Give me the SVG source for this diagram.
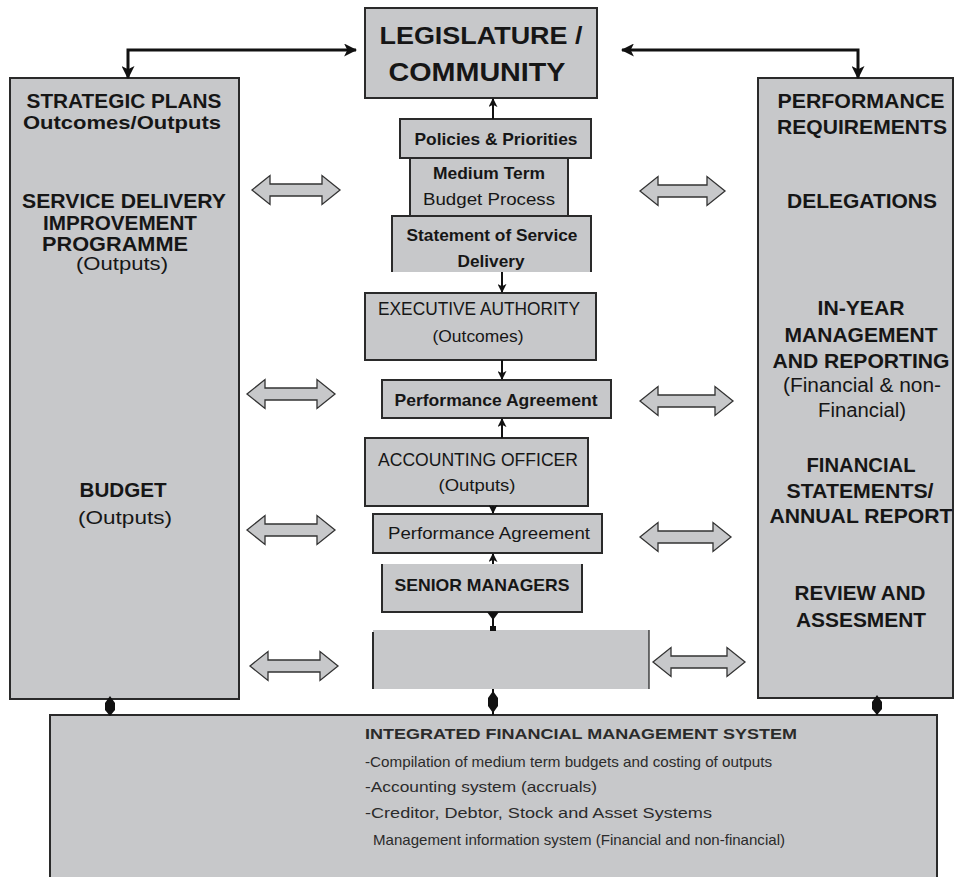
<svg xmlns="http://www.w3.org/2000/svg" width="958" height="879" viewBox="0 0 958 879">
<defs>
<style>
.box{fill:#c7c8ca;stroke:#2a2a2a;stroke-width:2}
.fl{fill:#c7c8ca}
.edge{fill:none;stroke:#2a2a2a;stroke-width:2}
.t{font-family:"Liberation Sans",Arial,sans-serif;fill:#161616;text-anchor:middle}
.s{text-anchor:start}
.b{font-weight:bold}
.dbl{fill:#c7c8ca;stroke:#333;stroke-width:1.3}
.conn{fill:none;stroke:#111;stroke-width:2}
.thick{stroke-width:3}
.tri{fill:#111}
.ifms{fill:#2b2b2b}
</style>
<marker id="big" viewBox="0 0 12 12" refX="11" refY="6" markerWidth="13" markerHeight="13" markerUnits="userSpaceOnUse" orient="auto-start-reverse">
<path d="M0,0 L12,6 L0,12 L3,6 Z" fill="#111"/>
</marker>
<marker id="sm" viewBox="0 0 10 10" refX="9" refY="5" markerWidth="9" markerHeight="9" markerUnits="userSpaceOnUse" orient="auto-start-reverse">
<path d="M0,0 L10,5 L0,10 L2.5,5 Z" fill="#111"/>
</marker>
</defs>
<rect width="958" height="879" fill="#ffffff"/>

<g id="legislature">
<rect class="box" x="365" y="8" width="232" height="90"/>
<text class="t b" x="481" y="44" font-size="24" textLength="203" lengthAdjust="spacingAndGlyphs">LEGISLATURE /</text>
<text class="t b" x="477" y="81" font-size="25" textLength="177" lengthAdjust="spacingAndGlyphs">COMMUNITY</text>
</g>

<g id="strategic">
<rect class="box" x="10" y="78" width="229" height="621"/>
<text class="t b" x="124" y="108" font-size="20" textLength="195" lengthAdjust="spacingAndGlyphs">STRATEGIC PLANS</text>
<text class="t b" x="122" y="129" font-size="19" textLength="198" lengthAdjust="spacingAndGlyphs">Outcomes/Outputs</text>
<text class="t b" x="124" y="208" font-size="20" textLength="204" lengthAdjust="spacingAndGlyphs">SERVICE DELIVERY</text>
<text class="t b" x="120" y="230" font-size="20" textLength="154" lengthAdjust="spacingAndGlyphs">IMPROVEMENT</text>
<text class="t b" x="115" y="251" font-size="20" textLength="146" lengthAdjust="spacingAndGlyphs">PROGRAMME</text>
<text class="t" x="122" y="270" font-size="19" textLength="92" lengthAdjust="spacingAndGlyphs">(Outputs)</text>
<text class="t b" x="123" y="497" font-size="20" textLength="87" lengthAdjust="spacingAndGlyphs">BUDGET</text>
<text class="t" x="125" y="524" font-size="19" textLength="94" lengthAdjust="spacingAndGlyphs">(Outputs)</text>
</g>

<g id="performance">
<rect class="box" x="758" y="78" width="195" height="620"/>
<text class="t b" x="861" y="108" font-size="20" textLength="167" lengthAdjust="spacingAndGlyphs">PERFORMANCE</text>
<text class="t b" x="862" y="134" font-size="20" textLength="170" lengthAdjust="spacingAndGlyphs">REQUIREMENTS</text>
<text class="t b" x="862" y="208" font-size="20" textLength="150" lengthAdjust="spacingAndGlyphs">DELEGATIONS</text>
<text class="t b" x="861" y="315" font-size="21" textLength="87" lengthAdjust="spacingAndGlyphs">IN-YEAR</text>
<text class="t b" x="861" y="342" font-size="21" textLength="153" lengthAdjust="spacingAndGlyphs">MANAGEMENT</text>
<text class="t b" x="861" y="368" font-size="21" textLength="177" lengthAdjust="spacingAndGlyphs">AND REPORTING</text>
<text class="t" x="862" y="392" font-size="20" textLength="158" lengthAdjust="spacingAndGlyphs">(Financial &amp; non-</text>
<text class="t" x="862" y="417" font-size="20" textLength="88" lengthAdjust="spacingAndGlyphs">Financial)</text>
<text class="t b" x="861" y="472" font-size="21" textLength="109" lengthAdjust="spacingAndGlyphs">FINANCIAL</text>
<text class="t b" x="860" y="498" font-size="21" textLength="147" lengthAdjust="spacingAndGlyphs">STATEMENTS/</text>
<text class="t b" x="861" y="523" font-size="21" textLength="183" lengthAdjust="spacingAndGlyphs">ANNUAL REPORT</text>
<text class="t b" x="860" y="600" font-size="21" textLength="131" lengthAdjust="spacingAndGlyphs">REVIEW AND</text>
<text class="t b" x="861" y="627" font-size="21" textLength="130" lengthAdjust="spacingAndGlyphs">ASSESMENT</text>
</g>

<g id="policies">
<rect class="box" x="400" y="119" width="191" height="39"/>
<text class="t b" x="496" y="145" font-size="17" textLength="163" lengthAdjust="spacingAndGlyphs">Policies &amp; Priorities</text>
</g>

<g id="mtbp">
<rect class="box" x="410" y="158" width="158" height="58"/>
<text class="t b" x="489" y="179" font-size="17" textLength="112" lengthAdjust="spacingAndGlyphs">Medium Term</text>
<text class="t" x="489" y="205" font-size="17" textLength="132" lengthAdjust="spacingAndGlyphs">Budget Process</text>
</g>

<g id="ssd">
<rect class="fl" x="392" y="216" width="199" height="56"/>
<path class="edge" d="M392,272 V216 H591 V272"/>
<text class="t b" x="492" y="241" font-size="17" textLength="171" lengthAdjust="spacingAndGlyphs">Statement of Service</text>
<text class="t b" x="491" y="267" font-size="17" textLength="67" lengthAdjust="spacingAndGlyphs">Delivery</text>
</g>

<g id="executive">
<rect class="box" x="365" y="293" width="231" height="67"/>
<text class="t" x="479" y="315" font-size="18" textLength="202" lengthAdjust="spacingAndGlyphs">EXECUTIVE AUTHORITY</text>
<text class="t" x="478" y="342" font-size="17" textLength="91" lengthAdjust="spacingAndGlyphs">(Outcomes)</text>
</g>

<g id="pa1">
<rect class="box" x="382" y="380" width="229" height="38"/>
<text class="t b" x="496" y="406" font-size="17" textLength="203" lengthAdjust="spacingAndGlyphs">Performance Agreement</text>
</g>

<g id="accounting">
<rect class="box" x="365" y="438" width="223" height="68"/>
<text class="t" x="478" y="466" font-size="18" textLength="200" lengthAdjust="spacingAndGlyphs">ACCOUNTING OFFICER</text>
<text class="t" x="477" y="491" font-size="17" textLength="77" lengthAdjust="spacingAndGlyphs">(Outputs)</text>
</g>

<g id="pa2">
<rect class="box" x="373" y="514" width="229" height="39"/>
<text class="t" x="489" y="539" font-size="16" textLength="202" lengthAdjust="spacingAndGlyphs">Performance Agreement</text>
</g>

<g id="senior">
<rect class="fl" x="382" y="564" width="200" height="48"/>
<path class="edge" d="M382,564 V612 H582 V564"/>
<text class="t b" x="482" y="591" font-size="17" textLength="175" lengthAdjust="spacingAndGlyphs">SENIOR MANAGERS</text>
</g>

<g id="blank">
<rect class="fl" x="373" y="630" width="276" height="59"/>
<path class="edge" d="M373,632 V689"/>
<path class="edge" d="M649,630 V689" style="stroke-width:1.3"/>
</g>

<g id="ifms">
<rect class="fl" x="50" y="715" width="887" height="162"/>
<path class="edge" d="M50,877 V715 H937 V877"/>
<text class="t s b ifms" x="365" y="739" font-size="15" textLength="432" lengthAdjust="spacingAndGlyphs">INTEGRATED FINANCIAL MANAGEMENT SYSTEM</text>
<text class="t s ifms" x="365" y="767" font-size="15" textLength="407" lengthAdjust="spacingAndGlyphs">-Compilation of medium term budgets and costing of outputs</text>
<text class="t s ifms" x="365" y="792" font-size="15" textLength="232" lengthAdjust="spacingAndGlyphs">-Accounting system (accruals)</text>
<text class="t s ifms" x="365" y="818" font-size="15" textLength="347" lengthAdjust="spacingAndGlyphs">-Creditor, Debtor, Stock and Asset Systems</text>
<text class="t s ifms" x="373" y="845" font-size="15" textLength="412" lengthAdjust="spacingAndGlyphs">Management information system (Financial and non-financial)</text>
</g>

<g id="connectors">
<path class="conn thick" d="M128,78 V50 H356" marker-start="url(#big)" marker-end="url(#big)"/>
<path class="conn thick" d="M858,78 V50 H622" marker-start="url(#big)" marker-end="url(#big)"/>
<path class="conn" d="M493,119 V99" marker-end="url(#sm)"/>
<path class="conn" d="M502,272 V292" marker-end="url(#sm)"/>
<path class="conn" d="M502,360 V379" marker-end="url(#sm)"/>
<path class="conn" d="M502,438 V419" marker-end="url(#sm)"/>
<path class="conn" d="M493,506 V513" marker-end="url(#sm)"/>
<path class="conn" d="M493,564 V554" marker-end="url(#sm)"/>
<path class="conn" d="M493,612 V630"/>
<path class="tri" d="M487,612 H499 L493,620 Z"/>
<rect class="tri" x="490" y="626" width="6" height="5"/>
<path class="conn" d="M110,699 V715"/>
<path class="tri" d="M110,696 L115,703 L115,710 L110,716 L105,710 L105,703 Z"/>
<path class="conn" d="M877,698 V715"/>
<path class="tri" d="M877,695 L882,702 L882,709 L877,715 L872,709 L872,702 Z"/>
<path class="conn" d="M493,689 V715"/>
<path class="tri" d="M493,691 L498,698 L498,706 L493,713 L488,706 L488,698 Z"/>

<path class="dbl" d="M252,190 L270,175.5 V184 H322 V175.5 L340,190 L322,204.5 V196 H270 V204.5 Z"/>
<path class="dbl" d="M247,394 L265,379.5 V388 H317 V379.5 L335,394 L317,408.5 V400 H265 V408.5 Z"/>
<path class="dbl" d="M247,530 L265,515.5 V524 H317 V515.5 L335,530 L317,544.5 V536 H265 V544.5 Z"/>
<path class="dbl" d="M250,666 L268,651.5 V660 H320 V651.5 L338,666 L320,680.5 V672 H268 V680.5 Z"/>
<path class="dbl" d="M640,191 L658,176.5 V185 H707 V176.5 L725,191 L707,205.5 V197 H658 V205.5 Z"/>
<path class="dbl" d="M640,401 L658,386.5 V395 H715 V386.5 L733,401 L715,415.5 V407 H658 V415.5 Z"/>
<path class="dbl" d="M640,537 L658,522.5 V531 H713 V522.5 L731,537 L713,551.5 V543 H658 V551.5 Z"/>
<path class="dbl" d="M653,662 L671,647.5 V656 H727 V647.5 L745,662 L727,676.5 V668 H671 V676.5 Z"/>
</g>
</svg>
